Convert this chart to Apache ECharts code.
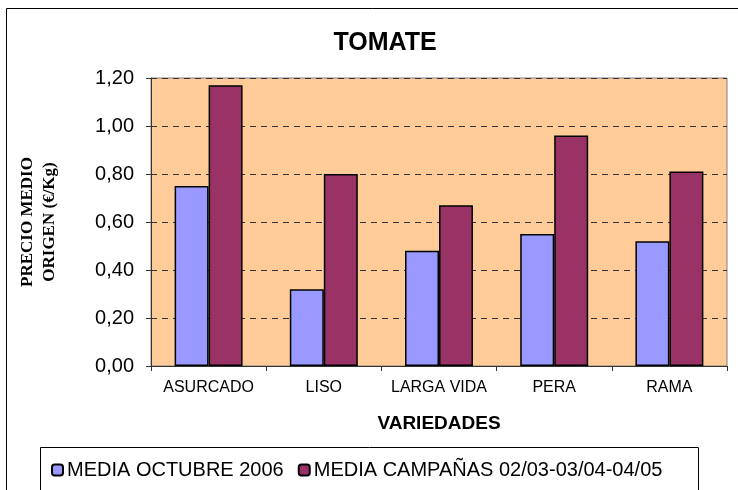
<!DOCTYPE html>
<html>
<head>
<meta charset="utf-8">
<title>TOMATE</title>
<script src="https://cdn.jsdelivr.net/npm/echarts@6/dist/echarts.min.js"></script>
<style>
  html, body { margin: 0; padding: 0; background: #fff; }
  #main { width: 738px; height: 490px; }
</style>
</head>
<body>
<div id="main"></div>
<script>
// datos
var variedades = ['ASURCADO', 'LISO', 'LARGA VIDA', 'PERA', 'RAMA'];
var mediaOctubre = [0.75, 0.32, 0.48, 0.55, 0.52];
var mediaCampanas = [1.17, 0.80, 0.67, 0.96, 0.81];
var serieNombres = ['MEDIA OCTUBRE 2006', 'MEDIA CAMPAÑAS 02/03-03/04-04/05'];

var myChart = echarts.init(document.getElementById('main'));

var option = {
    backgroundColor: '#fff',
    animation: false,
    title: {
        text: 'TOMATE',
        left: 380,
        textAlign: 'center',
        top: 26,
        textStyle: {
            fontFamily: 'Liberation Sans',
            fontSize: 25,
            fontWeight: 'bold',
            color: '#000'
        }
    },
    graphic: [
        // marco exterior
        {
            type: 'rect',
            shape: { x: 6.5, y: 8.5, width: 740, height: 500 },
            style: { fill: null, stroke: '#000', lineWidth: 1 },
            silent: true,
            z: -1
        },
        // caja de la leyenda
        {
            type: 'rect',
            shape: { x: 40.5, y: 447.5, width: 658, height: 60 },
            style: { fill: '#fff', stroke: '#000', lineWidth: 1 },
            silent: true,
            z: 0
        }
    ],
    legend: {
        left: 46,
        top: 455,
        itemWidth: 11,
        itemHeight: 11,
        itemGap: 14,
        z: 5,
        textStyle: {
            fontFamily: 'Liberation Sans',
            fontSize: 20,
            color: '#000',
            padding: [0, 0, 0, -1]
        },
        data: serieNombres
    },
    grid: {
        left: 151,
        right: 11,
        top: 78,
        bottom: 124,
        show: true,
        backgroundColor: '#FFCC99',
        borderColor: '#808080',
        borderWidth: 1
    },
    xAxis: {
        type: 'category',
        data: variedades,
        name: 'VARIEDADES',
        nameLocation: 'middle',
        nameGap: 48,
        nameTextStyle: {
            fontFamily: 'Liberation Sans',
            fontSize: 19,
            fontWeight: 'bold',
            color: '#000'
        },
        axisLine: { lineStyle: { color: '#333', width: 1 } },
        axisTick: { show: true, length: 5, lineStyle: { color: '#333' } },
        axisLabel: {
            interval: 0,
            fontFamily: 'Liberation Sans',
            fontSize: 16,
            color: '#000',
            margin: 14
        }
    },
    yAxis: {
        type: 'value',
        min: 0,
        max: 1.2,
        interval: 0.2,
        name: 'PRECIO MEDIO\nORIGEN (€/Kg)',
        nameLocation: 'middle',
        nameRotate: 90,
        nameGap: 90,
        nameTextStyle: {
            fontFamily: 'Liberation Serif',
            fontSize: 17,
            fontWeight: 'bold',
            color: '#000',
            lineHeight: 22
        },
        axisLine: { show: true, lineStyle: { color: '#333', width: 1 } },
        axisTick: { show: true, length: 5, lineStyle: { color: '#333' } },
        axisLabel: {
            fontFamily: 'Liberation Sans',
            fontSize: 20,
            color: '#000',
            margin: 17,
            formatter: function(v) {
                return v.toFixed(2).replace('.', ',');
            }
        },
        splitLine: {
            lineStyle: { color: '#333', type: [6, 5], width: 1 }
        }
    },
    series: [
        {
            name: serieNombres[0],
            type: 'bar',
            data: mediaOctubre,
            barGap: '0%',
            barCategoryGap: '41%',
            itemStyle: { color: '#9999FF', borderColor: '#000', borderWidth: 1.5 }
        },
        {
            name: serieNombres[1],
            type: 'bar',
            data: mediaCampanas,
            itemStyle: { color: '#993366', borderColor: '#000', borderWidth: 1.5 }
        }
    ]
};

myChart.setOption(option);
</script>
</body>
</html>
